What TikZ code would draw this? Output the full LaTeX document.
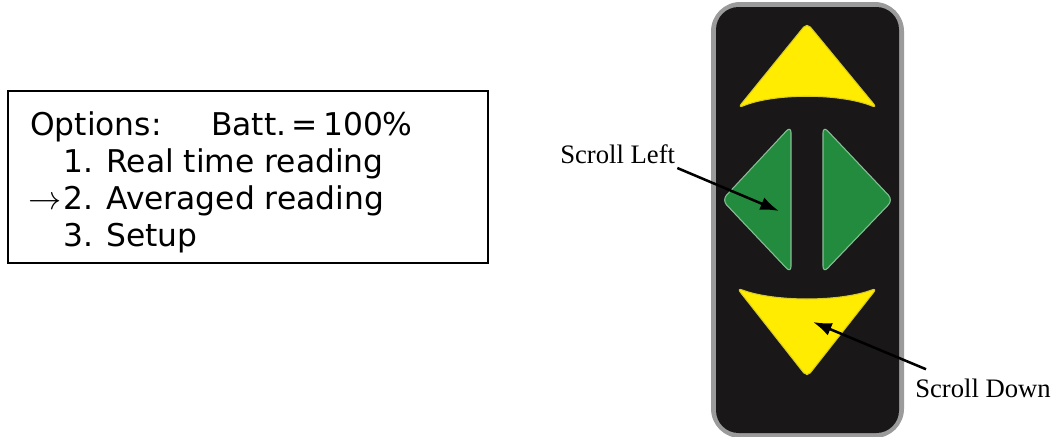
\documentclass[tikz,border=0pt]{standalone}
\usepackage{fontspec}
\setmainfont{Liberation Serif}
\newfontfamily\lcdfont{DejaVu Sans}
\usetikzlibrary{arrows.meta}

\definecolor{keyyellow}{HTML}{FFEC00}
\definecolor{keygreen}{HTML}{238B3E}
\definecolor{panelblack}{HTML}{1A1718}
\definecolor{panelgray}{HTML}{9B9B9B}

\begin{document}
\begin{tikzpicture}[x=0.75pt,y=-0.75pt,
  lcd line/.style={anchor=base west,inner sep=0pt,
  font=\lcdfont\fontsize{23.5}{28}\selectfont},
  label node/.style={anchor=base west,inner sep=0pt,
  font=\fontsize{20}{24}\selectfont},
  pointer/.style={-{Latex[length=14pt,width=10pt]},line width=1.9pt},
  yellow key/.style={fill=keyyellow,draw=keyyellow!70!gray,
  line width=0.8pt,rounded corners=4pt},
  green key/.style={fill=keygreen,draw=keygreen!55!white,
  line width=0.8pt,rounded corners=5pt}]

  \useasboundingbox (0,0) rectangle (1055,436);

  % display of the meter
  \draw[line width=1.1pt] (8,91) rectangle (488,263);
  \begin{scope}
    \clip (8,91) rectangle (488,252);
    \node[lcd line] (opt) at (30,135) {Options:};
    \node[lcd line] (batt) at (211,135) {Batt.\,=\,100\%};
    \node[lcd line] (real) at (63,172) {1. Real time reading};
    \node[lcd line] (arr) at (28,209) {$\rightarrow$};
    \node[lcd line] (avg) at (63,209) {2. Averaged reading};
    \node[lcd line] (setup) at (63,246) {3. Setup};
  \end{scope}

  % keypad
  \fill[panelgray,rounded corners=22pt] (711,2) rectangle (904,438);
  \fill[panelblack,rounded corners=17pt] (716,7) rectangle (899,433);

  \path[yellow key] (807,23) -- (877,108)
    .. controls (840,93) and (774,93) .. (738,108) -- cycle;
  \path[green key] (791,126) -- (791,273) -- (722,200) -- cycle;
  \path[green key] (823,126) -- (823,273) -- (893,200) -- cycle;
  \path[yellow key] (737,288) .. controls (774,302) and (840,302) .. (877,288)
    -- (807,377) -- cycle;

  \coordinate (leftkey) at (779,211);
  \coordinate (downkey) at (813,322);

  % labels
  \node[label node] (sleft) at (560,163) {Scroll Left};
  \node[label node] (sdown) at (915,397) {Scroll Down};

  \draw[pointer] (sleft.base east) ++(2,5) coordinate (sl) (sl) -- (leftkey);
  \draw[pointer] (sdown.north west) ++(11,-9) coordinate (sd) (sd) -- (downkey);

\end{tikzpicture}
\end{document}
